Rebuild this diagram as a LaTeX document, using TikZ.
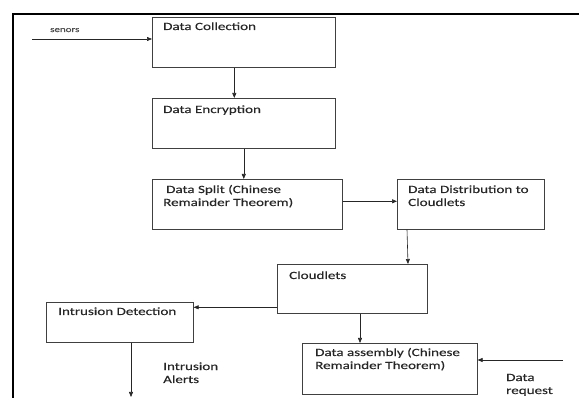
\documentclass[tikz,border=0pt]{standalone}
\usepackage{fontspec}
\usepackage{tikz}
\usetikzlibrary{positioning, arrows.meta, calc}
\newfontfamily\boxfont[FakeStretch=1.37, FakeBold=0.3]{Carlito}

\tikzset{
    stepbox/.style={draw=black!75, line width=0.6pt, anchor=north west, inner sep=0pt},
    boxtext/.style={anchor=base west, inner sep=0pt, align=left, text=black!85,
        font=\boxfont\fontsize{11}{13}\selectfont},
    flow/.style={draw=black!85, line width=0.6pt, -{Triangle[length=5pt,width=4pt]}}
}

\begin{document}
\begin{tikzpicture}[x=1pt, y=-1pt]
    \useasboundingbox (0,0) rectangle (579,398);
    % Frame
    \draw[line width=2.6pt] (13,398) -- (13,14) -- (579,14);

    % Boxes
    \node[stepbox, minimum width=183pt, minimum height=50pt] (coll) at (152,17) {};
    \node[stepbox, minimum width=183pt, minimum height=50pt] (enc) at (152,98) {};
    \node[stepbox, minimum width=190pt, minimum height=50pt] (split) at (152,179) {};
    \node[stepbox, minimum width=147pt, minimum height=50pt] (dist) at (397,179) {};
    \node[stepbox, minimum width=150pt, minimum height=49pt] (cloud) at (277,264) {};
    \node[stepbox, minimum width=147pt, minimum height=40pt] (intr) at (46,302) {};
    \node[stepbox, minimum width=175pt, minimum height=51pt] (asm) at (302,343) {};

    % Box texts (base of the last line)
    \node[boxtext] (coll-t) at (163,30) {Data Collection};
    \node[boxtext] (enc-t) at (163,113) {Data Encryption};
    \node[boxtext] (split-t) at (163,206) {\hspace{3pt}Data Split (Chinese\\Remainder Theorem)};
    \node[boxtext] (dist-t) at (408,206) {Data Distribution to\\Cloudlets};
    \node[boxtext] (cloud-t) at (289,279) {Cloudlets};
    \node[boxtext] (intr-t) at (58,315) {Intrusion Detection};
    \node[boxtext] (asm-t) at (315,369) {Data assembly (Chinese\\Remainder Theorem)};

    % Free ends
    \coordinate (senin) at (32,39);
    \coordinate (alertend) at (131,397);
    \coordinate (reqin) at (563,360);

    % Outside labels
    \node[boxtext, text=black!70, font=\boxfont\fontsize{8}{10}\selectfont] (senors-t) at (50,32) {senors};
    \node[boxtext] (alert-t) at (163,383) {Intrusion\\Alerts};
    \node[boxtext] (req-t) at (506,394) {Data\\request};

    % Connectors
    \draw[flow] (senin) -- (senin -| coll.west);
    \draw[flow] ([xshift=-9.5pt]coll.south) -- ([xshift=-9.5pt]coll.south |- enc.north);
    \draw[flow] (enc.south) -- (enc.south |- split.north);
    \draw[flow] ([yshift=3pt]split.east) -- ([yshift=3pt]split.east -| dist.west);
    \draw[flow] ([xshift=10pt]dist.south west) -- ([xshift=131pt]cloud.north west);
    \draw[flow] ([yshift=-18.5pt]cloud.west) -- ([yshift=-18.5pt]cloud.west -| intr.east);
    \draw[flow] ([xshift=83pt]cloud.south west) -- ([xshift=83pt]cloud.south west |- asm.north);
    \draw[flow] ([xshift=85pt]intr.south west) -- (alertend);
    \draw[flow] (reqin) -- (reqin -| asm.east);
\end{tikzpicture}
\end{document}
